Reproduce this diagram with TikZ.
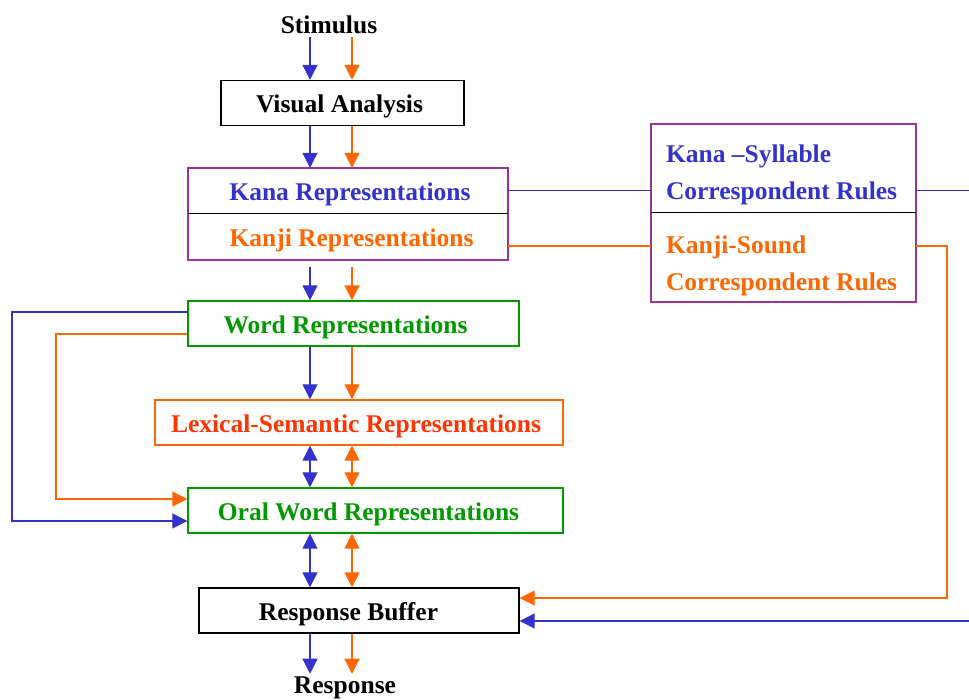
\documentclass[tikz,border=0pt]{standalone}
\usepackage{fontspec}
\setmainfont{Liberation Serif}
\usetikzlibrary{arrows.meta,calc}
\definecolor{pathblue}{HTML}{3333CC}
\definecolor{pathorange}{HTML}{FF6600}
\definecolor{lexred}{HTML}{FF3300}
\definecolor{boxgreen}{HTML}{009900}
\definecolor{boxpurple}{HTML}{993399}
\begin{document}
\begin{tikzpicture}[x=1pt,y=-1pt,
  lbl/.style={font=\bfseries\fontsize{25.5}{30}\selectfont, inner sep=0pt},
  boxtext/.style={lbl, text height=21pt, text depth=2pt},
  box/.style={boxtext, draw, line width=1.4pt, rectangle, minimum height=45pt},
  half/.style={boxtext, rectangle, minimum width=#1},
  ruletext/.style={lbl, align=left, anchor=west, font=\bfseries\fontsize{25.5}{37}\selectfont},
  conn/.style={line width=1.2pt},
  tip/.style={-{Triangle[length=15pt,width=15pt]}},
  bitip/.style={{Triangle[length=15pt,width=15pt]}-{Triangle[length=15pt,width=15pt]}},
  blue path/.style={conn, draw=pathblue},
  orange path/.style={conn, draw=pathorange}]
\useasboundingbox (0,0) rectangle (969,699);

% x positions of the two processing routes
\coordinate (bx) at (310,0);
\coordinate (ox) at (352,0);

% ---- main column (trailing/leading kerns nudge the labels inside their boxes) ----
\node[lbl] (stim) at (329,25) {Stimulus};
\node[box, minimum width=243pt] (va) at (342.5,103) {Visual Analysis\hspace*{6pt}};

\node[half=320pt, minimum height=45pt, text=pathblue] (kana) at (348,190.5) {\hspace*{4pt}Kana Representations};
\node[half=320pt, minimum height=47pt, text=pathorange] (kanji) at (348,236.5) {\hspace*{7pt}Kanji Representations};
\draw[boxpurple, line width=1.6pt] (kana.north west) rectangle (kanji.south east);
\draw[black, line width=1.4pt] (kana.south west) -- (kana.south east);

\node[box, draw=boxgreen, text=boxgreen, minimum width=331pt] (word) at (353.5,323.5) {Word Representations\hspace*{16pt}};
\node[box, draw=pathorange, text=lexred, minimum width=408pt] (lex) at (359,422.5) {Lexical-Semantic Representations\hspace*{6pt}};
\node[box, draw=boxgreen, text=boxgreen, minimum width=375pt] (oral) at (375.5,510.5) {Oral Word Representations\hspace*{14pt}};
\node[box, minimum width=320pt] (buf) at (359,610.5) {Response Buffer\hspace*{21pt}};
\node[lbl] (resp) at (345,688) {Response};

% ---- correspondence rule box ----
\node[half=265pt, minimum height=88pt] (kanarule) at (783.5,168) {};
\node[half=265pt, minimum height=90pt] (kanjirule) at (783.5,257) {};
\draw[boxpurple, line width=1.6pt] (kanarule.north west) rectangle (kanjirule.south east);
\draw[black, line width=1.4pt] (kanarule.south west) -- (kanarule.south east);
\node[ruletext, text=pathblue] (kanaruletext) at ($(kanarule.west)+(15,7)$)
  {Kana –Syllable\\Correspondent Rules};
\node[ruletext, text=pathorange] (kanjiruletext) at ($(kanjirule.west)+(15,9)$)
  {Kanji-Sound\\Correspondent Rules};

% ---- vertical flow ----
\foreach \r/\s in {bx/blue path, ox/orange path}{
  \draw[\s, tip, shorten <=3pt] (stim.south -| \r) -- (va.north -| \r);
  \draw[\s, tip] (va.south -| \r) -- (kana.north -| \r);
  \draw[\s, tip, shorten <=7pt] (kanji.south -| \r) -- (word.north -| \r);
  \draw[\s, tip] (word.south -| \r) -- (lex.north -| \r);
  \draw[\s, bitip] (lex.south -| \r) -- (oral.north -| \r);
  \draw[\s, bitip] (oral.south -| \r) -- (buf.north -| \r);
  \draw[\s, tip, shorten >=3pt] (buf.south -| \r) -- (resp.north -| \r);
}

% ---- direct word-to-oral routes on the left ----
\coordinate (lb) at (12,0);
\coordinate (lo) at (56,0);
\coordinate (wb) at ([yshift=11.5pt]word.west);
\coordinate (wo) at ([yshift=-10.5pt]word.west);
\coordinate (ob) at ([yshift=-10.5pt]oral.west);
\coordinate (oo) at ([yshift=11.5pt]oral.west);
\draw[blue path, tip] (wb) -| (lb |- ob) -- (ob);
\draw[orange path, tip] (wo) -| (lo |- oo) -- (oo);

% ---- sublexical routes through the rule box ----
\coordinate (redge1) at (969,190.5);
\coordinate (redge2) at (969,621);
\coordinate (ro) at (947,0);
\coordinate (kj) at ([yshift=-9.5pt]kanji.east);
\coordinate (bo) at ([yshift=12.5pt]buf.east);
\coordinate (bb) at ([yshift=-10.5pt]buf.east);
\draw[blue path] (kana.east) -- (kana.east -| kanarule.west);
\draw[blue path] (kana.east -| kanarule.east) -- (redge1);
\draw[orange path] (kj) -- (kj -| kanjirule.west);
\draw[orange path, tip] (kj -| kanjirule.east) -| (ro |- bo) -- (bo);
\draw[blue path, tip] (redge2) -- (bb);
\end{tikzpicture}
\end{document}
